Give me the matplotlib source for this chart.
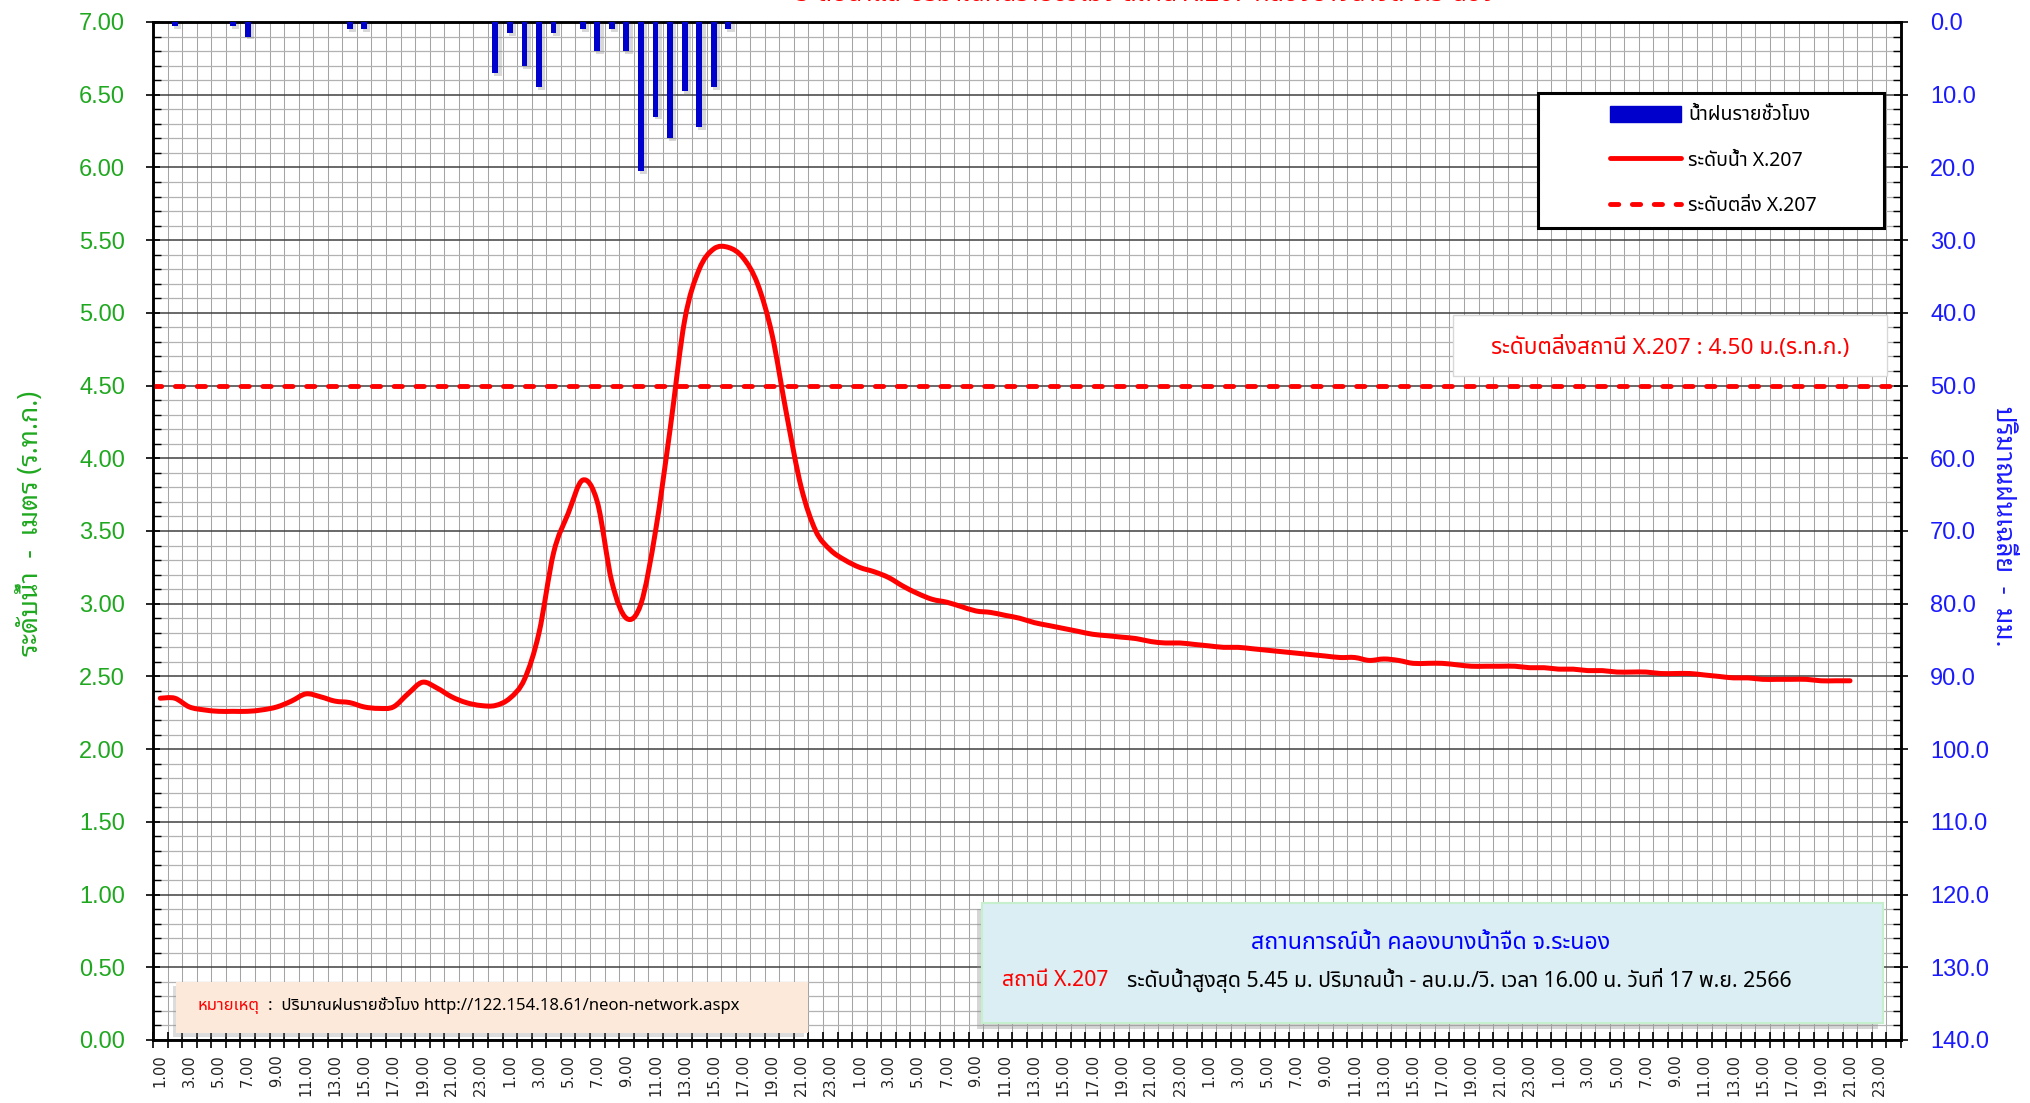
import matplotlib
matplotlib.use("Agg")
import numpy as np
import matplotlib.pyplot as plt
from matplotlib import font_manager
from matplotlib.patches import Rectangle, Patch, PathPatch
from matplotlib.path import Path
from matplotlib.lines import Line2D
from matplotlib.ticker import MultipleLocator, FormatStrFormatter

# ---- data ----
day_labels = ['1.00', '3.00', '5.00', '7.00', '9.00', '11.00',
              '13.00', '15.00', '17.00', '19.00', '21.00', '23.00']
x_labels = day_labels * 5          # 5 days, hourly categories, label every 2 h
n_hours = 120

# hourly water level X.207 (m. MSL)
water_level = [
    2.35, 2.35, 2.29, 2.27, 2.26, 2.26, 2.26, 2.27, 2.29, 2.33, 2.38, 2.36,
    2.33, 2.32, 2.29, 2.28, 2.29, 2.38, 2.46, 2.42, 2.36, 2.32, 2.30, 2.30,
    2.35, 2.48, 2.80, 3.35, 3.62, 3.85, 3.70, 3.15, 2.90, 3.00, 3.50, 4.20,
    4.95, 5.30, 5.44, 5.45, 5.38, 5.20, 4.85, 4.30, 3.80, 3.50, 3.37, 3.30,
    3.25, 3.22, 3.18, 3.12, 3.07, 3.03, 3.01, 2.98, 2.95, 2.94, 2.92, 2.90,
    2.87, 2.85, 2.83, 2.81, 2.79, 2.78, 2.77, 2.76, 2.74, 2.73, 2.73, 2.72,
    2.71, 2.70, 2.70, 2.69, 2.68, 2.67, 2.66, 2.65, 2.64, 2.63, 2.63, 2.61,
    2.62, 2.61, 2.59, 2.59, 2.59, 2.58, 2.57, 2.57, 2.57, 2.57, 2.56, 2.56,
    2.55, 2.55, 2.54, 2.54, 2.53, 2.53, 2.53, 2.52, 2.52, 2.52, 2.51, 2.50,
    2.49, 2.49, 2.48, 2.48, 2.48, 2.48, 2.47, 2.47, 2.47,
]

# hourly rainfall (mm), only hours with rain
rain_hour = [1, 5, 6, 13, 14, 23, 24, 25, 26, 27, 29, 30, 31, 32, 33, 34, 35, 36, 37, 38, 39]
rain_mm = [0.5, 0.5, 2.0, 1.0, 1.0, 7.0, 1.5, 6.0, 9.0, 1.5, 1.0, 4.0, 1.0, 4.0,
           20.5, 13.0, 16.0, 9.5, 14.5, 9.0, 1.0]

bank_level = 4.50

# ---- fonts ----
names = {f.name for f in font_manager.fontManager.ttflist}

def pick(cands, default):
    for c in cands:
        if c in names:
            return c
    return default

THAI = pick(['Noto Sans Thai', 'IBM Plex Sans Thai', 'Anuphan', 'Sarabun'], 'DejaVu Sans')
THAI_LOOP = pick(['Noto Sans Thai Looped', 'IBM Plex Sans Thai Looped'], THAI)
NUM = pick(['Liberation Sans', 'Arial'], 'DejaVu Sans')

GREEN = '#1fa81f'
BLUE = '#1a1aff'
RED = '#ff0000'


def smooth_path(xs, ys):
    # Excel style "smoothed line": cubic bezier through every data point
    pts = np.column_stack([xs, ys]).astype(float)
    verts = [pts[0]]
    codes = [Path.MOVETO]
    n = len(pts)
    for i in range(n - 1):
        p0 = pts[i - 1] if i > 0 else pts[i]
        p1 = pts[i]
        p2 = pts[i + 1]
        p3 = pts[i + 2] if i + 2 < n else pts[i + 1]
        verts += [p1 + (p2 - p0) / 6, p2 - (p3 - p1) / 6, p2]
        codes += [Path.CURVE4] * 3
    return Path(verts, codes)


fig = plt.figure(figsize=(20.31, 11.03), dpi=100)
ax = fig.add_axes([0.07533, 0.05712, 0.86066, 0.92294])
ax.set_xlim(-0.5, n_hours - 0.5)
ax.set_ylim(0, 7)

# grid
ax.yaxis.set_major_locator(MultipleLocator(0.5))
ax.yaxis.set_minor_locator(MultipleLocator(0.1))
ax.yaxis.set_major_formatter(FormatStrFormatter('%.2f'))
ax.set_xticks(np.arange(0, n_hours, 2), x_labels, rotation=90)
ax.set_xticks(np.arange(-0.5, n_hours, 1), minor=True)
ax.grid(which='minor', axis='x', color='#a4a4a4', lw=0.75)
ax.grid(which='minor', axis='y', color='#b2b2b2', lw=0.9)
ax.grid(which='major', axis='y', color='#404040', lw=1.1)
ax.set_axisbelow(True)

ax.tick_params(axis='x', which='major', length=0, pad=10, labelsize=10.5,
               labelcolor='#222222')
ax.tick_params(axis='x', which='minor', length=12, direction='inout', width=1.2)
ax.tick_params(axis='y', which='major', length=10, direction='inout', width=1.2,
               labelsize=17, labelcolor=GREEN, pad=15)
ax.tick_params(axis='y', which='minor', length=6, direction='in', width=1.0)
for lab in ax.get_yticklabels():
    lab.set_family(NUM)
for lab in ax.get_xticklabels():
    lab.set_va('top')
for s in ax.spines.values():
    s.set_linewidth(1.8)

ax.set_ylabel('ระดับน้ำ  -  เมตร (ร.ท.ก.)', color=GREEN, fontsize=19,
              fontweight='bold', family=[THAI_LOOP, 'DejaVu Sans'])
ax.yaxis.set_label_coords(-0.062, 0.507)

# water level (smoothed) and bank level
x = np.arange(len(water_level))
ax.add_patch(PathPatch(smooth_path(x, water_level), facecolor='none', edgecolor=RED,
                       lw=3.6, joinstyle='round', capstyle='round', zorder=5))
ax.axhline(bank_level, color=RED, lw=3.5, dashes=(1.7, 2.8),
           dash_capstyle='round', zorder=5)

# rainfall axis
ax2 = ax.twinx()
ax2.set_ylim(140, 0)
ax2.yaxis.set_major_locator(MultipleLocator(10))
ax2.yaxis.set_minor_locator(MultipleLocator(2))
ax2.yaxis.set_major_formatter(FormatStrFormatter('%.1f'))
ax2.tick_params(axis='y', which='major', length=10, direction='inout', width=1.2,
                labelsize=17, labelcolor=BLUE, pad=16)
ax2.tick_params(axis='y', which='minor', length=6, direction='in', width=1.0)
for lab in ax2.get_yticklabels():
    lab.set_family(NUM)
for s in ax2.spines.values():
    s.set_linewidth(1.8)
ax2.set_ylabel('ปริมาณฝนเฉลี่ย  -  มม.', color=BLUE, fontsize=18.5, fontweight='bold',
               rotation=270, family=[THAI_LOOP, 'DejaVu Sans'])
ax2.yaxis.set_label_coords(1.065, 0.505)

rx = np.array(rain_hour)
rv = np.array(rain_mm)
ax2.bar(rx + 0.18, rv + 0.4, width=0.5, color='#808080', alpha=0.3, zorder=2)
ax2.bar(rx, rv, width=0.4, color='#0000cc', zorder=3)

# legend
handles = [Patch(facecolor='#0000cc', edgecolor='#0000cc'),
           Line2D([], [], color=RED, lw=3.5, solid_capstyle='round'),
           Line2D([], [], color=RED, lw=3.5, dashes=(1.7, 2.8), dash_capstyle='round')]
labels = ['น้ำฝนรายชั่วโมง', 'ระดับน้ำ X.207', 'ระดับตลิ่ง X.207']
ax2.add_patch(Rectangle((0.7923, 0.7976), 0.198, 0.1327, transform=ax2.transAxes,
                        facecolor='white', edgecolor='black', lw=2.2, zorder=8))
leg = ax2.legend(handles, labels, loc='upper left', bbox_to_anchor=(0.8335, 0.918),
                 frameon=False, borderpad=0, borderaxespad=0, handlelength=3.66,
                 handleheight=0.9, handletextpad=0.35, labelspacing=1.3,
                 prop={'family': [THAI, 'DejaVu Sans'], 'size': 14})
leg.set_zorder(9)

# bank level label box
ax2.add_patch(Rectangle((0.7437, 0.6523), 0.2483, 0.0599, transform=ax2.transAxes,
                        facecolor='white', edgecolor='#d8d8d8', lw=1, zorder=8))
ax2.text(0.8678, 0.6807, 'ระดับตลิ่งสถานี X.207 : 4.50 ม.(ร.ท.ก.)', transform=ax2.transAxes,
         ha='center', va='center', color=RED, fontsize=16.3,
         family=[THAI, 'DejaVu Sans'], zorder=9)

# station summary box
ax2.add_patch(Rectangle((0.4713, 0.0107), 0.5154, 0.1179, transform=ax2.transAxes,
                        facecolor='#8c8c8c', alpha=0.35, lw=0, zorder=7))
ax2.add_patch(Rectangle((0.4743, 0.0167), 0.5154, 0.1179, transform=ax2.transAxes,
                        facecolor='#daeef3', edgecolor='#c6efce', lw=1.5, zorder=8))
ax2.text(0.7311, 0.0953, 'สถานการณ์น้ำ คลองบางน้ำจืด จ.ระนอง', transform=ax2.transAxes,
         ha='center', va='center', color='#0000ff', fontsize=16.7,
         family=[THAI, 'DejaVu Sans'], zorder=9)
ax2.text(0.4857, 0.0589, 'สถานี X.207', transform=ax2.transAxes, ha='left', va='center',
         color=RED, fontsize=15.3, family=[THAI, 'DejaVu Sans'], zorder=9)
ax2.text(0.5572, 0.0589,
         'ระดับน้ำสูงสุด 5.45 ม. ปริมาณน้ำ - ลบ.ม./วิ. เวลา 16.00 น. วันที่ 17 พ.ย. 2566',
         transform=ax2.transAxes, ha='left', va='center', color='black', fontsize=15.3,
         fontweight='medium', family=[THAI, 'DejaVu Sans'], zorder=9)

# note box
ax2.add_patch(Rectangle((0.0112, 0.0029), 0.3615, 0.0501, transform=ax2.transAxes,
                        facecolor='#8c8c8c', alpha=0.3, lw=0, zorder=7))
ax2.add_patch(Rectangle((0.0132, 0.0069), 0.3615, 0.0501, transform=ax2.transAxes,
                        facecolor='#fde9d9', edgecolor='none', zorder=8))
ax2.text(0.0252, 0.0334, 'หมายเหตุ', transform=ax2.transAxes, ha='left', va='center',
         color=RED, fontsize=12, family=[THAI, 'DejaVu Sans'], zorder=9)
ax2.text(0.0660, 0.0334, ':  ปริมาณฝนรายชั่วโมง http://122.154.18.61/neon-network.aspx',
         transform=ax2.transAxes, ha='left', va='center', color='black', fontsize=12,
         family=[THAI, 'DejaVu Sans'], zorder=9)

# title (cut off at the top edge in the original)
fig.text(0.564, 0.9992, 'ระดับน้ำและปริมาณฝนรายชั่วโมง สถานี X.207 คลองบางน้ำจืด จ.ระนอง',
         ha='center', va='baseline', color=RED, fontsize=18,
         family=[THAI, 'DejaVu Sans'])

fig.savefig('out.png', dpi=100)
